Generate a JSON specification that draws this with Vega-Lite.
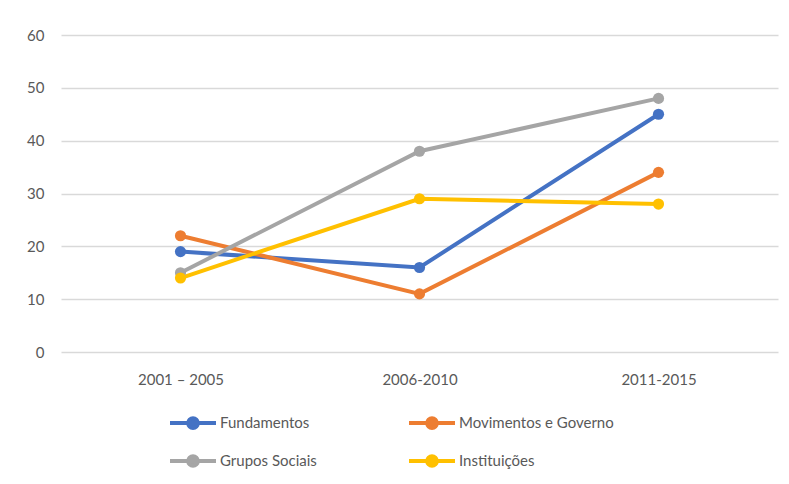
{
  "$schema": "https://vega.github.io/schema/vega-lite/v6.json",
  "width": 717,
  "height": 317,
  "autosize": {"type": "none"},
  "padding": {"left": 61, "top": 35, "right": 11, "bottom": 132},
  "background": "white",
  "config": {
    "view": {"stroke": null},
    "font": "Lato",
    "axis": {"labelFont": "Lato", "labelFontSize": 15, "labelColor": "#595959"},
    "legend": {"labelFont": "Lato", "labelFontSize": 15, "labelColor": "#595959"}
  },
  "data": {
    "values": [
      {"periodo": "2001 – 2005", "serie": "Fundamentos", "valor": 19},
      {"periodo": "2006-2010", "serie": "Fundamentos", "valor": 16},
      {"periodo": "2011-2015", "serie": "Fundamentos", "valor": 45},
      {"periodo": "2001 – 2005", "serie": "Movimentos e Governo", "valor": 22},
      {"periodo": "2006-2010", "serie": "Movimentos e Governo", "valor": 11},
      {"periodo": "2011-2015", "serie": "Movimentos e Governo", "valor": 34},
      {"periodo": "2001 – 2005", "serie": "Grupos Sociais", "valor": 15},
      {"periodo": "2006-2010", "serie": "Grupos Sociais", "valor": 38},
      {"periodo": "2011-2015", "serie": "Grupos Sociais", "valor": 48},
      {"periodo": "2001 – 2005", "serie": "Instituições", "valor": 14},
      {"periodo": "2006-2010", "serie": "Instituições", "valor": 29},
      {"periodo": "2011-2015", "serie": "Instituições", "valor": 28}
    ]
  },
  "encoding": {
    "x": {
      "field": "periodo",
      "type": "ordinal",
      "sort": ["2001 – 2005", "2006-2010", "2011-2015"],
      "scale": {"type": "point", "padding": 0.5},
      "axis": {"title": null, "labelAngle": 0, "domain": false, "ticks": false, "grid": false, "labelPadding": 20}
    },
    "y": {
      "field": "valor",
      "type": "quantitative",
      "scale": {"domain": [0, 60]},
      "axis": {
        "title": null,
        "values": [0, 10, 20, 30, 40, 50, 60],
        "domain": false,
        "ticks": false,
        "gridColor": "#d9d9d9",
        "gridWidth": 1.5,
        "labelPadding": 17
      }
    },
    "color": {
      "field": "serie",
      "type": "nominal",
      "sort": ["Fundamentos", "Movimentos e Governo", "Grupos Sociais", "Instituições"],
      "scale": {
        "domain": ["Fundamentos", "Movimentos e Governo", "Grupos Sociais", "Instituições"],
        "range": ["#4472C4", "#ED7D31", "#A5A5A5", "#FFC000"]
      },
      "legend": {
        "title": null,
        "orient": "none",
        "legendX": 107,
        "legendY": 363,
        "columns": 2,
        "columnPadding": 84,
        "rowPadding": -10,
        "values": ["Fundamentos", "Grupos Sociais", "Movimentos e Governo", "Instituições"],
        "symbolType": "M -1 0 L 1 0 M 0.21 0 A 0.21 0.21 0 1 1 -0.21 0 A 0.21 0.21 0 1 1 0.21 0 Z",
        "symbolSize": 2116,
        "symbolStrokeWidth": 4,
        "labelOffset": 2,
        "encode": {
          "symbols": {"update": {"fill": {"scale": "color", "field": "value"}, "fillOpacity": {"value": 1}}}
        }
      }
    }
  },
  "layer": [
    {"mark": {"type": "line", "strokeWidth": 4}},
    {"mark": {"type": "circle", "size": 125, "opacity": 1}}
  ]
}
